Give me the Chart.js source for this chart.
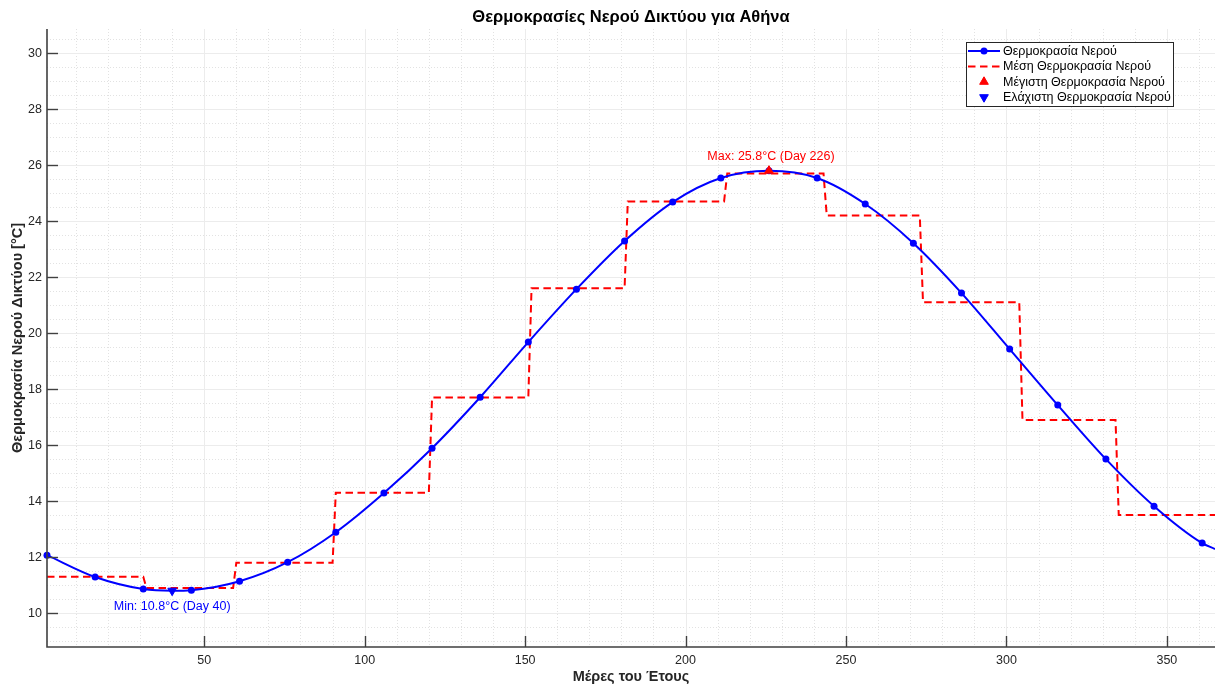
<!DOCTYPE html>
<html>
<head>
<meta charset="utf-8">
<title>Θερμοκρασίες Νερού Δικτύου για Αθήνα</title>
<script src="https://cdn.jsdelivr.net/npm/chart.js@4.4.1/dist/chart.umd.min.js"></script>
<style>
  html, body { margin: 0; padding: 0; background: #ffffff; overflow: hidden; }
  #wrap { width: 1215px; height: 688px; }
</style>
</head>
<body>
<div id="wrap"><canvas id="chart" width="1215" height="688"></canvas></div>
<script>
// Water temperature along the year (day of year -> °C)
const curveDays  = [1, 16, 31, 40, 46, 61, 76, 91, 106, 121, 136, 151, 166, 181, 196, 211, 226, 241, 256, 271, 286, 301, 316, 331, 346, 361, 365];
const curveTemps = [12.07, 11.29, 10.86, 10.80, 10.82, 11.14, 11.82, 12.89, 14.29, 15.89, 17.71, 19.68, 21.57, 23.29, 24.68, 25.54, 25.80, 25.54, 24.61, 23.21, 21.43, 19.43, 17.43, 15.50, 13.82, 12.50, 12.29];
const markerStep = 15;           // a marker every 15th day, starting on day 1

// Monthly means (last day of each month, mean °C)
const monthEnds  = [31, 59, 90, 120, 151, 181, 212, 243, 273, 304, 334, 365];
const monthMeans = [11.3, 10.9, 11.8, 14.3, 17.7, 21.6, 24.7, 25.7, 24.2, 21.1, 16.9, 13.5];

// Extremes
const maxDay = [226], maxTemp = [25.8];
const minDay = [40],  minTemp = [10.8];

// Axes
const xLimits = [1, 365];
const yLimits = [8.79, 30.86];
const xTicks = [50, 100, 150, 200, 250, 300, 350];
const yTicks = [10, 12, 14, 16, 18, 20, 22, 24, 26, 28, 30];
const xMinorStep = 10;
const yMinorStep = 0.5;

const seriesLabels = ['Θερμοκρασία Νερού', 'Μέση Θερμοκρασία Νερού', 'Μέγιστη Θερμοκρασία Νερού', 'Ελάχιστη Θερμοκρασία Νερού'];

const FONT = '"Liberation Sans", Arial, Helvetica, sans-serif';
const BLUE = '#0000ff';
const RED = '#ff0000';
const AXIS = '#404040';
const TEXT_SIZE = 12.5;

// Step line of the monthly means: each month spans its first to last day
const stepPoints = [];
monthEnds.forEach((end, i) => {
  const start = i === 0 ? xLimits[0] : monthEnds[i - 1] + 1;
  stepPoints.push({ x: start, y: monthMeans[i] }, { x: end, y: monthMeans[i] });
});

const curvePoints = curveDays.map((d, i) => ({ x: d, y: curveTemps[i] }));

function triangle(ctx, cx, cy, r, rotDeg) {
  const rot = rotDeg * Math.PI / 180;
  ctx.beginPath();
  for (let k = 0; k < 3; k++) {
    const ang = rot + k * 2 * Math.PI / 3;
    const px = cx + Math.sin(ang) * r, py = cy - Math.cos(ang) * r;
    k === 0 ? ctx.moveTo(px, py) : ctx.lineTo(px, py);
  }
  ctx.closePath();
}

// Grid, inward ticks, axis lines, annotations and the boxed legend
const matlabStyle = {
  id: 'matlabStyle',
  beforeDatasetsDraw(chart) {
    const { ctx, chartArea: a, scales: { x, y } } = chart;
    ctx.save();
    ctx.lineWidth = 1;
    // minor dotted grid
    ctx.strokeStyle = '#e2e2e2';
    ctx.setLineDash([1, 2]);
    for (let d = 0; d <= xLimits[1]; d += xMinorStep) {
      if (d < xLimits[0] || xTicks.includes(d)) continue;
      const px = Math.round(x.getPixelForValue(d)) + 0.5;
      ctx.beginPath(); ctx.moveTo(px, a.top); ctx.lineTo(px, a.bottom); ctx.stroke();
    }
    for (let v = Math.ceil(yLimits[0] / yMinorStep) * yMinorStep; v <= yLimits[1]; v += yMinorStep) {
      if (yTicks.some(t => Math.abs(t - v) < 1e-6)) continue;
      const py = Math.round(y.getPixelForValue(v)) + 0.5;
      ctx.beginPath(); ctx.moveTo(a.left, py); ctx.lineTo(a.right, py); ctx.stroke();
    }
    // major solid grid
    ctx.setLineDash([]);
    ctx.strokeStyle = '#ececec';
    xTicks.forEach(t => {
      const px = Math.round(x.getPixelForValue(t)) + 0.5;
      ctx.beginPath(); ctx.moveTo(px, a.top); ctx.lineTo(px, a.bottom); ctx.stroke();
    });
    yTicks.forEach(t => {
      const py = Math.round(y.getPixelForValue(t)) + 0.5;
      ctx.beginPath(); ctx.moveTo(a.left, py); ctx.lineTo(a.right, py); ctx.stroke();
    });
    ctx.restore();
  },
  afterDatasetsDraw(chart) {
    const { ctx, chartArea: a, scales: { x, y } } = chart;
    ctx.save();
    // axis lines
    ctx.strokeStyle = AXIS;
    ctx.lineWidth = 1.6;
    ctx.beginPath();
    ctx.moveTo(a.left, a.top); ctx.lineTo(a.left, a.bottom); ctx.lineTo(a.right, a.bottom);
    ctx.stroke();
    // inward tick marks
    const tickLen = 11;
    ctx.lineWidth = 1.4;
    xTicks.forEach(t => {
      const px = Math.round(x.getPixelForValue(t)) + 0.5;
      ctx.beginPath(); ctx.moveTo(px, a.bottom); ctx.lineTo(px, a.bottom - tickLen); ctx.stroke();
    });
    yTicks.forEach(t => {
      const py = Math.round(y.getPixelForValue(t)) + 0.5;
      ctx.beginPath(); ctx.moveTo(a.left, py); ctx.lineTo(a.left + tickLen, py); ctx.stroke();
    });

    // extreme value annotations
    ctx.font = TEXT_SIZE + 'px ' + FONT;
    ctx.textAlign = 'center';
    ctx.textBaseline = 'middle';
    ctx.fillStyle = RED;
    ctx.fillText(`Max: ${maxTemp[0].toFixed(1)}°C (Day ${maxDay[0]})`,
      x.getPixelForValue(maxDay[0]) + 2, y.getPixelForValue(maxTemp[0] + 0.5));
    ctx.fillStyle = BLUE;
    ctx.fillText(`Min: ${minTemp[0].toFixed(1)}°C (Day ${minDay[0]})`,
      x.getPixelForValue(minDay[0]), y.getPixelForValue(minTemp[0] - 0.57));

    // legend box in the upper right corner
    const bw = 207, bh = 64;
    const bx = a.right - 42 - bw, by = a.top + 13;
    ctx.fillStyle = '#ffffff';
    ctx.fillRect(bx, by, bw, bh);
    ctx.strokeStyle = '#262626';
    ctx.lineWidth = 1;
    ctx.strokeRect(bx + 0.5, by + 0.5, bw, bh);
    const rowH = 15.4;
    const sx0 = bx + 2, sx1 = bx + 34, sxm = (sx0 + sx1) / 2;
    chart.data.datasets.forEach((d, i) => {
      const ry = by + 9 + i * rowH;
      ctx.save();
      if (i === 0) {
        ctx.strokeStyle = d.borderColor; ctx.lineWidth = d.borderWidth;
        ctx.beginPath(); ctx.moveTo(sx0, ry); ctx.lineTo(sx1, ry); ctx.stroke();
        ctx.fillStyle = d.backgroundColor;
        ctx.beginPath(); ctx.arc(sxm, ry, 3.5, 0, Math.PI * 2); ctx.fill();
      } else if (i === 1) {
        ctx.strokeStyle = d.borderColor; ctx.lineWidth = d.borderWidth;
        ctx.setLineDash(d.borderDash);
        ctx.beginPath(); ctx.moveTo(sx0, ry); ctx.lineTo(sx1, ry); ctx.stroke();
      } else {
        ctx.fillStyle = d.backgroundColor; ctx.strokeStyle = d.borderColor; ctx.lineWidth = 1;
        triangle(ctx, sxm, ry, 5, d.pointRotation || 0);
        ctx.fill(); ctx.stroke();
      }
      ctx.restore();
      ctx.fillStyle = '#000000';
      ctx.font = TEXT_SIZE + 'px ' + FONT;
      ctx.textAlign = 'left';
      ctx.textBaseline = 'middle';
      ctx.fillText(d.label, bx + 37, ry + 0.5);
    });
    ctx.restore();
  }
};

new Chart(document.getElementById('chart'), {
  type: 'line',
  data: {
    datasets: [
      {
        label: seriesLabels[0],
        data: curvePoints,
        borderColor: BLUE,
        backgroundColor: BLUE,
        borderWidth: 2,
        cubicInterpolationMode: 'monotone',
        pointRadius: c => ((c.raw.x - 1) % markerStep === 0 ? 3.5 : 0),
        pointBorderWidth: 0,
        pointHoverRadius: 0,
        clip: false,
        order: 2
      },
      {
        label: seriesLabels[1],
        data: stepPoints,
        borderColor: RED,
        backgroundColor: RED,
        borderWidth: 2,
        borderDash: [7.5, 4.5],
        pointRadius: 0,
        tension: 0,
        order: 3
      },
      {
        label: seriesLabels[2],
        data: maxDay.map((d, i) => ({ x: d, y: maxTemp[i] })),
        showLine: false,
        pointStyle: 'triangle',
        pointRadius: 5,
        pointBorderWidth: 1,
        borderColor: RED,
        backgroundColor: RED,
        clip: false,
        order: 1
      },
      {
        label: seriesLabels[3],
        data: minDay.map((d, i) => ({ x: d, y: minTemp[i] })),
        showLine: false,
        pointStyle: 'triangle',
        pointRotation: 180,
        pointRadius: 5,
        pointBorderWidth: 1,
        borderColor: BLUE,
        backgroundColor: BLUE,
        clip: false,
        order: 0
      }
    ]
  },
  options: {
    responsive: false,
    animation: false,
    events: [],
    layout: { padding: 0, autoPadding: false },
    scales: {
      x: {
        type: 'linear',
        min: xLimits[0],
        max: xLimits[1],
        afterBuildTicks: s => { s.ticks = xTicks.map(v => ({ value: v })); },
        afterFit: s => { s.height = 41; s.paddingLeft = 0; s.paddingRight = 0; },
        grid: { display: false, drawTicks: false },
        border: { display: false },
        ticks: { font: { family: FONT, size: TEXT_SIZE }, color: '#262626', padding: 6 },
        title: {
          display: true, text: 'Μέρες του Έτους', color: '#262626',
          font: { family: FONT, size: 14.5, weight: 'bold' },
          padding: { top: 0, bottom: 2.3 }
        }
      },
      y: {
        type: 'linear',
        min: yLimits[0],
        max: yLimits[1],
        afterBuildTicks: s => { s.ticks = yTicks.map(v => ({ value: v })); },
        afterFit: s => { s.width = 47; s.paddingTop = 0; s.paddingBottom = 0; },
        grid: { display: false, drawTicks: false },
        border: { display: false },
        ticks: { font: { family: FONT, size: TEXT_SIZE }, color: '#262626', padding: 5 },
        title: {
          display: true, text: 'Θερμοκρασία Νερού Δικτύου [°C]', color: '#262626',
          font: { family: FONT, size: 14.5, weight: 'bold' },
          padding: { top: 9.3, bottom: 0 }
        }
      }
    },
    plugins: {
      legend: { display: false },
      tooltip: { enabled: false },
      title: {
        display: true,
        fullSize: false,
        text: 'Θερμοκρασίες Νερού Δικτύου για Αθήνα',
        color: '#000000',
        font: { family: FONT, size: 16.5, weight: 'bold' },
        padding: { top: 7.6, bottom: 1.6 }
      }
    }
  },
  plugins: [matlabStyle]
});
</script>
</body>
</html>
